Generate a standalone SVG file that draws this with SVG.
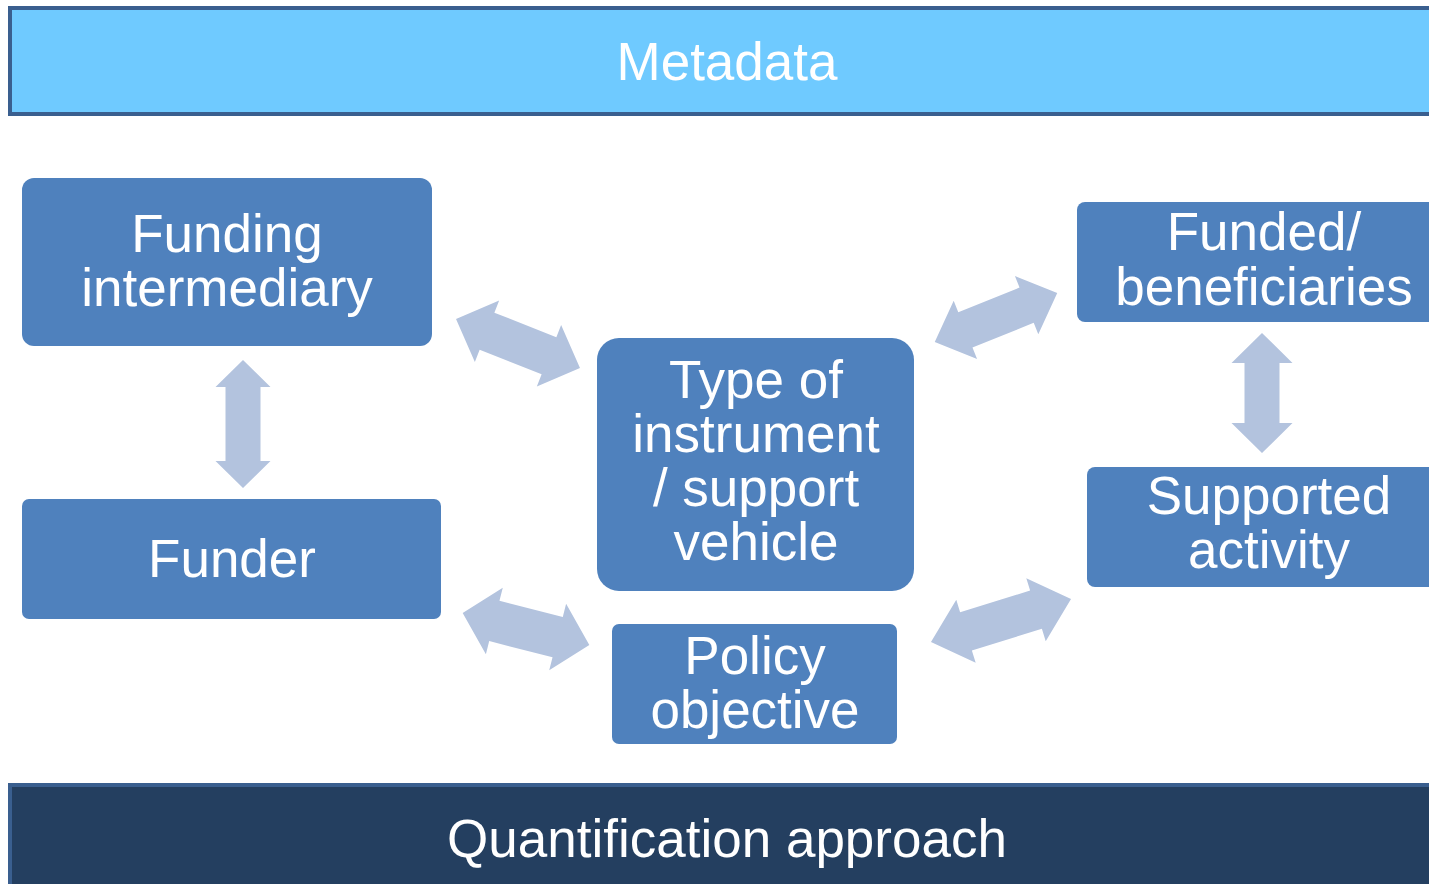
<svg xmlns="http://www.w3.org/2000/svg" width="1429" height="884" viewBox="0 0 1429 884">
<style>
.node{fill:#4f81bd}
.t{font-family:"Liberation Sans",Arial,sans-serif;font-size:53px;fill:#ffffff;text-anchor:middle}
.arr{fill:#b3c3de}
</style>
<defs>
<path id="da" d="M-66,0 L-33,-33 L-33,-20 L33,-20 L33,-33 L66,0 L33,33 L33,20 L-33,20 L-33,33 Z"/>
</defs>
<rect width="1429" height="884" fill="#ffffff"/>
<g id="metadata">
<rect x="10" y="8" width="1440" height="106" fill="#6fcaff" stroke="#3a5f8f" stroke-width="4"/>
<text class="t" x="727" y="80">Metadata</text>
</g>
<g id="quantification">
<rect x="10" y="785" width="1440" height="120" fill="#243f60" stroke="#3a5f8f" stroke-width="4"/>
<text class="t" x="727" y="857">Quantification approach</text>
</g>
<g id="connectors">
<path class="arr" d="M243,360 L270.5,387 L260.5,387 L260.5,461 L270.5,461 L243,488 L215.5,461 L225.5,461 L225.5,387 L215.5,387 Z"/>
<path class="arr" d="M1262,333 L1292.5,363 L1279.5,363 L1279.5,423 L1292.5,423 L1262,453 L1231.5,423 L1244.5,423 L1244.5,363 L1231.5,363 Z"/>
<use href="#da" class="arr" transform="translate(518,343.5) rotate(21.6) scale(1.01,1)"/>
<use href="#da" class="arr" transform="translate(996,317.5) rotate(-21.9) scale(1,0.95)"/>
<use href="#da" class="arr" transform="translate(526,629) rotate(14.25) scale(0.99,1.04)"/>
<use href="#da" class="arr" transform="translate(1001,620.5) rotate(-17.1) scale(1.11,1)"/>
</g>
<g id="funding-intermediary">
<rect class="node" x="22" y="178" width="410" height="168" rx="12"/>
<text class="t" x="227" y="252">Funding</text>
<text class="t" x="227" y="306">intermediary</text>
</g>
<g id="funder">
<rect class="node" x="22" y="499" width="419" height="120" rx="7"/>
<text class="t" x="232" y="577">Funder</text>
</g>
<g id="type-of-instrument">
<rect class="node" x="597" y="338" width="317" height="253" rx="22"/>
<text class="t" x="756" y="398">Type of</text>
<text class="t" x="756" y="452">instrument</text>
<text class="t" x="756" y="506">/ support</text>
<text class="t" x="756" y="560">vehicle</text>
</g>
<g id="policy-objective">
<rect class="node" x="612" y="624" width="285" height="120" rx="7"/>
<text class="t" x="755" y="674">Policy</text>
<text class="t" x="755" y="728">objective</text>
</g>
<g id="funded-beneficiaries">
<rect class="node" x="1077" y="202" width="400" height="120" rx="8"/>
<text class="t" x="1264" y="250">Funded/</text>
<text class="t" x="1264" y="305">beneficiaries</text>
</g>
<g id="supported-activity">
<rect class="node" x="1087" y="467" width="400" height="120" rx="8"/>
<text class="t" x="1269" y="514">Supported</text>
<text class="t" x="1269" y="568">activity</text>
</g>
</svg>
